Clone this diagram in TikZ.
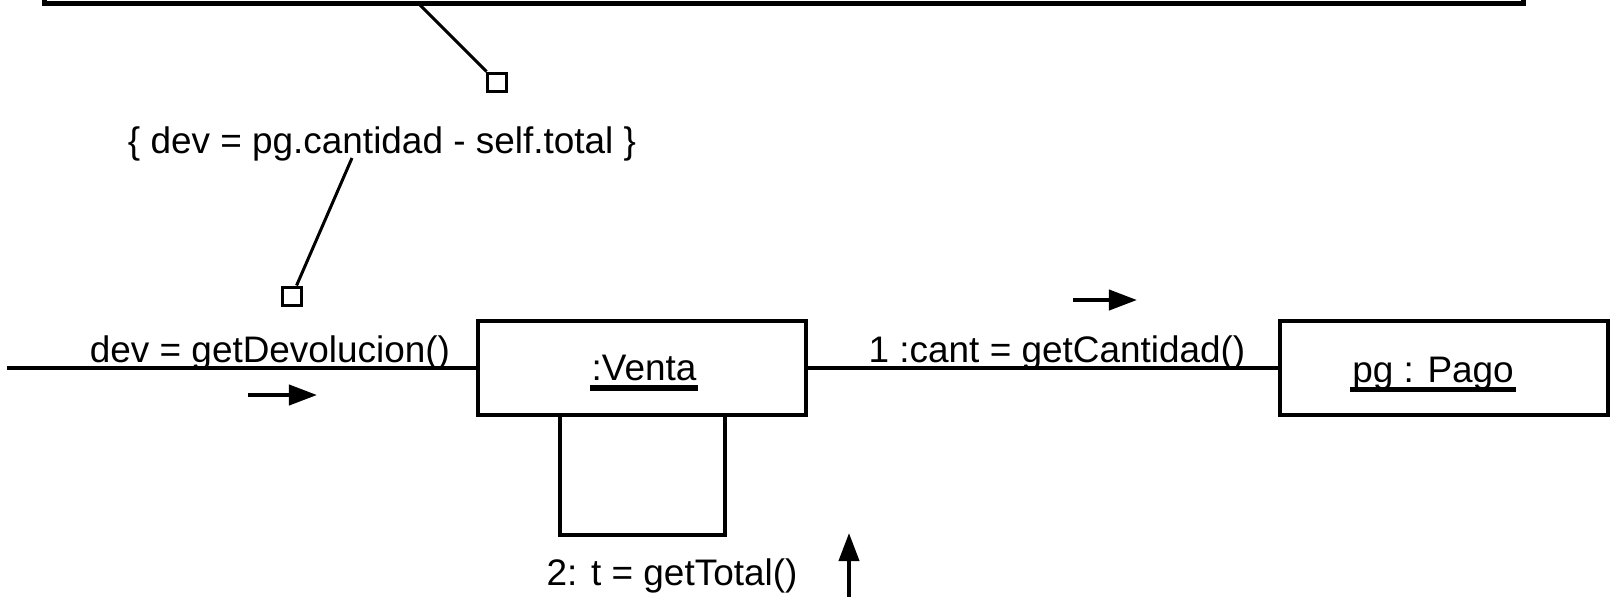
\documentclass[tikz,border=0pt]{standalone}
\usepackage{fontspec}
\setmainfont{Liberation Sans}
\usetikzlibrary{arrows.meta}
\begin{document}
\begin{tikzpicture}[x=0.01cm, y=-0.01cm, line width=0.04cm,
  obj/.style={draw, fill=white, minimum width=3.28cm, minimum height=0.94cm, inner sep=0pt},
  lbl/.style={anchor=base, inner sep=0pt, font=\fontsize{10.5}{12}\selectfont},
  anchorsq/.style={draw, fill=white, minimum size=0.18cm, inner sep=0pt, line width=0.03cm},
  msg/.style={-{Triangle[length=0.28cm, width=0.2cm]}},
  uline/.style={line width=0.055cm}]
\useasboundingbox (0,0) rectangle (1614,596);
\clip (0,0) rectangle (1614,596);

% enclosing element, only its lower edge is in view
\node[draw, line width=0.05cm, minimum width=14.78cm, minimum height=2cm, inner sep=0pt] (ctx) at (784,-97) {};

% objects
\node[obj] (venta) at (642,368) {};
\node[obj] (pago) at (1444,368) {};
\node[lbl] (vlab) at (644,380) {:Venta};
\node[lbl] (plab) at (1433,382) {pg : Pago};
\draw[uline] ([yshift=-0.08cm]vlab.base west) -- ([yshift=-0.08cm]vlab.base east);
\draw[uline] ([yshift=-0.075cm]plab.base west) -- ([yshift=-0.075cm]plab.base east);

% links
\coordinate (lend) at (7,368);
\draw (lend) -- (venta.west);
\draw (venta.east) -- (pago.west);
\draw ([xshift=-0.82cm]venta.south) -- ++(0,118) -- ++(165,0) -- ++(0,-118);

% link labels
\node[lbl] (ldev) at (270,362) {dev = getDevolucion()};
\node[lbl] (lcant) at (1057,362) {1 :cant = getCantidad()};
\node[lbl] (ltot) at (672,585) {2: t = getTotal()};

% message direction arrows
\coordinate (m1a) at (248,395); \coordinate (m1b) at (317,395);
\coordinate (m2a) at (1073,300); \coordinate (m2b) at (1137,300);
\coordinate (m3a) at (849,600); \coordinate (m3b) at (849,533);
\draw[msg] (m1a) -- (m1b);
\draw[msg] (m2a) -- (m2b);
\draw[msg] (m3a) -- (m3b);

% constraint note and its anchors
\node[lbl] (note) at (382,153) {\{ dev = pg.cantidad - self.total \}};
\coordinate (t1) at (418,3);
\coordinate (n1) at (352,158);
\node[anchorsq] (a1) at (497,82) {};
\node[anchorsq] (a2) at (292,296) {};
\draw[line width=0.03cm] (t1) -- (a1);
\draw[line width=0.03cm] (n1) -- (a2);
\end{tikzpicture}
\end{document}
